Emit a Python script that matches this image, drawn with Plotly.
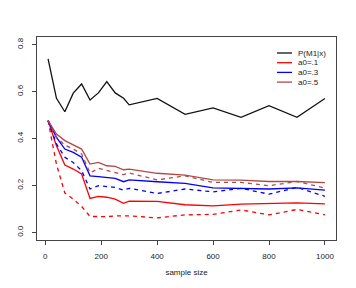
import plotly.graph_objects as go

# sample sizes
n = [10, 40, 70, 100, 130, 160, 190, 220, 250, 280, 300, 400, 500, 600, 700, 800, 900, 1000]

# posterior P(M1|x)
p_m1 = [0.739, 0.571, 0.514, 0.593, 0.632, 0.564, 0.594, 0.642, 0.594, 0.571, 0.543,
        0.571, 0.503, 0.53, 0.49, 0.54, 0.49, 0.57]

# a0 = .1
a01_solid = [0.476, 0.369, 0.287, 0.27, 0.249, 0.145, 0.154, 0.150, 0.142, 0.124, 0.133,
             0.132, 0.118, 0.113, 0.121, 0.125, 0.126, 0.122]
a01_dash = [0.476, 0.29, 0.168, 0.142, 0.111, 0.068, 0.068, 0.067, 0.071, 0.07, 0.071,
            0.062, 0.075, 0.077, 0.096, 0.075, 0.098, 0.075]

# a0 = .3
a03_solid = [0.476, 0.405, 0.355, 0.341, 0.32, 0.241, 0.238, 0.235, 0.23, 0.216, 0.224,
             0.216, 0.209, 0.19, 0.188, 0.185, 0.19, 0.18]
a03_dash = [0.476, 0.377, 0.32, 0.298, 0.263, 0.185, 0.199, 0.196, 0.192, 0.18, 0.188,
            0.166, 0.185, 0.173, 0.188, 0.163, 0.192, 0.154]

# a0 = .5
a05_solid = [0.476, 0.419, 0.391, 0.372, 0.355, 0.291, 0.298, 0.284, 0.281, 0.267, 0.27,
             0.252, 0.244, 0.224, 0.223, 0.217, 0.217, 0.212]
a05_dash = [0.476, 0.405, 0.372, 0.355, 0.334, 0.253, 0.273, 0.263, 0.256, 0.246, 0.253,
            0.224, 0.241, 0.213, 0.213, 0.199, 0.217, 0.189]

legend_labels = ["P(M1|x)", "a0=.1", "a0=.3", "a0=.5"]

red = "#FF0000"
blue = "#0000FF"
brown = "#B04A4A"
black = "#111111"
dash = "4px,4px"
lw = 1.3

fig = go.Figure()
fig.add_trace(go.Scatter(x=n, y=p_m1, mode="lines", line=dict(color=black, width=lw)))
fig.add_trace(go.Scatter(x=n, y=a01_solid, mode="lines", line=dict(color=red, width=lw)))
fig.add_trace(go.Scatter(x=n, y=a03_solid, mode="lines", line=dict(color=blue, width=lw)))
fig.add_trace(go.Scatter(x=n, y=a05_solid, mode="lines", line=dict(color=brown, width=lw)))
fig.add_trace(go.Scatter(x=n, y=a01_dash, mode="lines", line=dict(color=red, width=lw, dash=dash)))
fig.add_trace(go.Scatter(x=n, y=a03_dash, mode="lines", line=dict(color=blue, width=lw, dash=dash)))
fig.add_trace(go.Scatter(x=n, y=a05_dash, mode="lines", line=dict(color=brown, width=lw, dash=dash)))

# plot box in pixels
W, H = 356, 288
L, R, T, B = 37, 336, 37, 240


def px(x):
    return (x - L) / (R - L)


def py(y):
    return (B - y) / (B - T)


# legend drawn by hand (R style, no box)
leg_colors = [black, red, blue, brown]
for i, (lab, col) in enumerate(zip(legend_labels, leg_colors)):
    yy = py(53 + i * 9.7)
    fig.add_shape(type="line", xref="paper", yref="paper",
                  x0=px(277), x1=px(292), y0=yy, y1=yy,
                  line=dict(color=col, width=lw))
    fig.add_annotation(xref="paper", yref="paper", x=px(296), y=yy,
                       text=lab, showarrow=False, xanchor="left", yanchor="middle",
                       font=dict(size=8, color="#222222"))

axis_common = dict(showgrid=False, zeroline=False, showline=True, mirror=True,
                   linecolor="#444444", linewidth=1, ticks="outside", ticklen=4,
                   tickcolor="#444444", tickfont=dict(size=8, color="#222222"),
                   automargin=False)

fig.update_layout(
    width=W, height=H,
    margin=dict(l=L, r=W - R, t=T, b=H - B),
    paper_bgcolor="white", plot_bgcolor="white",
    showlegend=False,
    font=dict(family="Liberation Sans, Arial, sans-serif", size=8, color="#222222"),
    xaxis=dict(range=[-29.6, 1039.6], tickvals=[0, 200, 400, 600, 800, 1000],
               title=dict(text="sample size", font=dict(size=8), standoff=9),
               ticklabelstandoff=4, **axis_common),
    yaxis=dict(range=[-0.032, 0.832], tickvals=[0, 0.2, 0.4, 0.6, 0.8],
               tickformat=".1f", tickangle=-90, ticklabelstandoff=6, **axis_common),
)

fig.write_html("out.html", config={"displayModeBar": False},
               post_script="document.body.style.margin='0px';")
